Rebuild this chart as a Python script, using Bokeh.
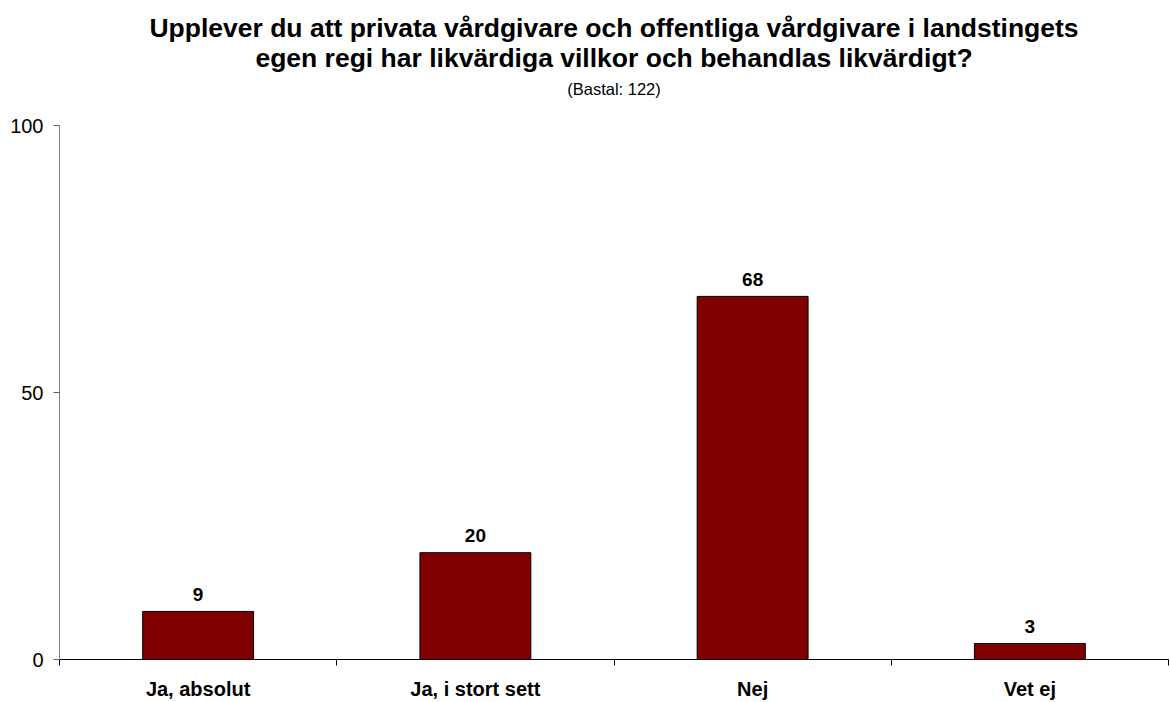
from bokeh.plotting import figure
from bokeh.models import FixedTicker, Title, ColumnDataSource, Range1d
from bokeh.core.properties import value
from bokeh.embed import file_html
from bokeh.resources import INLINE

categories = ["Ja, absolut", "Ja, i stort sett", "Nej", "Vet ej"]
values = [9, 20, 68, 3]
y_ticks = [0, 50, 100]
title_lines = [
    "Upplever du att privata vårdgivare och offentliga vårdgivare i landstingets",
    "egen regi har likvärdiga villkor och behandlas likvärdigt?",
]
subtitle = "(Bastal: 122)"

FONT = "Liberation Sans"
n = len(categories)
xs = [i + 0.5 for i in range(n)]
src = ColumnDataSource(dict(x=xs, top=values, label=[str(v) for v in values]))

p = figure(width=1170, height=702, output_backend="svg", toolbar_location=None,
           x_range=Range1d(0, n), y_range=Range1d(0, 100),
           min_border_left=59, min_border_right=2, min_border_top=125, min_border_bottom=0)
p.outline_line_color = None
p.xgrid.visible = False
p.ygrid.visible = False
p.background_fill_color = "white"

p.vbar(x="x", top="top", width=0.4, bottom=0, source=src,
       fill_color="#800000", line_color="black", line_width=1)
p.text(x="x", y="top", text="label", source=src, text_align="center",
       text_baseline="alphabetic", y_offset=-17, text_font=value(FONT),
       text_font_size="19px", text_font_style="bold", text_color="black")

# y axis
ya = p.yaxis[0]
ya.ticker = FixedTicker(ticks=y_ticks)
ya.axis_line_color = "#808080"
ya.major_tick_line_color = "#606060"
ya.major_tick_out = 6
ya.major_tick_in = 0
ya.minor_tick_line_color = None
ya.major_label_standoff = 10
ya.major_label_text_font = FONT
ya.major_label_text_font_size = "20px"
ya.major_label_text_color = "black"

# x axis
xa = p.xaxis[0]
xa.ticker = FixedTicker(ticks=xs, minor_ticks=list(range(n + 1)))
xa.major_label_overrides = {x: c for x, c in zip(xs, categories)}
xa.axis_line_color = "black"
xa.major_tick_line_color = None
xa.major_tick_out = 0
xa.major_tick_in = 0
xa.minor_tick_line_color = "black"
xa.minor_tick_out = 6
xa.minor_tick_in = 0
xa.major_label_standoff = 12
xa.major_label_text_font = FONT
xa.major_label_text_font_size = "20px"
xa.major_label_text_font_style = "bold"
xa.major_label_text_color = "black"

p.title = None
# spacer between subtitle and plot area
p.add_layout(Title(text=" ", text_font_size="1px", standoff=20), "above")
p.add_layout(Title(text=subtitle, align="center", text_font=FONT, text_font_size="16.5px",
                   text_font_style="normal", text_color="black", standoff=9, offset=0), "above")
p.add_layout(Title(text=title_lines[1], align="center", text_font=FONT,
                   text_font_size="26.5px", text_font_style="bold", text_color="black",
                   standoff=2), "above")
p.add_layout(Title(text=title_lines[0], align="center", text_font=FONT,
                   text_font_size="26.5px", text_font_style="bold", text_color="black",
                   standoff=-7), "above")

open("out.html", "w").write(file_html(p, INLINE))
